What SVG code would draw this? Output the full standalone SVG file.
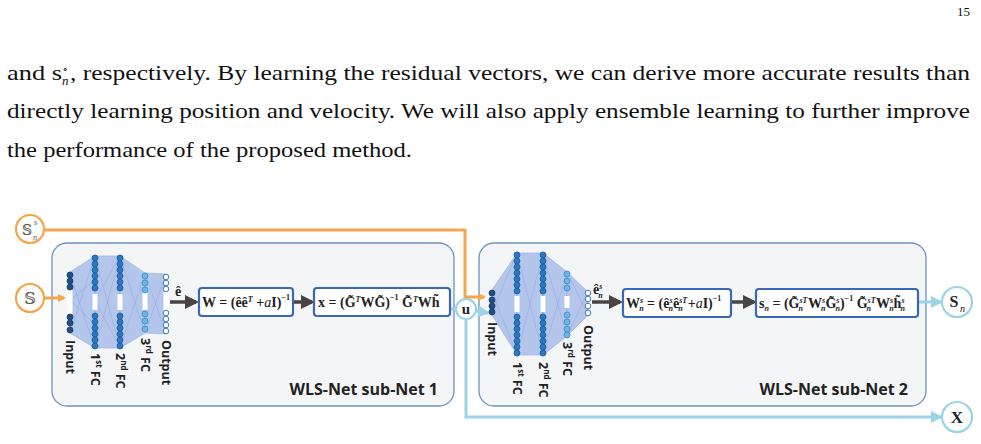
<svg xmlns="http://www.w3.org/2000/svg" width="981" height="444" viewBox="0 0 981 444">
<style>
.pg{font-family:"Liberation Serif",serif;font-size:22px;fill:#111}
.box{fill:#f3f5f6;stroke:#6b93c0;stroke-width:1.3}
.fb{fill:#fff;stroke:#3a68b8;stroke-width:2.2}
.fm{font-family:"Liberation Serif",serif;font-size:14px;font-weight:bold;fill:#222}
.lbl{font-family:"Open Sans","DejaVu Sans",sans-serif;font-size:12.5px;font-weight:bold;fill:#222}
.sub{font-family:"Open Sans","DejaVu Sans",sans-serif;font-size:16px;font-weight:bold;fill:#222}
.mesh{fill:#b5c6ec;stroke:#93abe0;stroke-width:.6}
.ml{stroke:#8ea7dc;stroke-width:.5}
.c1{fill:#1f4f85;stroke:#163a66;stroke-width:.8}
.c2{fill:#2a78c2;stroke:#1c5a9a;stroke-width:.8}
.c3{fill:#6cb6e6;stroke:#3a8cc6;stroke-width:.8}
.c4{fill:#fff;stroke:#2a6fb0;stroke-width:.9}
.bar{fill:#fff}
.io{fill:#fff;stroke-width:2.2}
.or{stroke:#f6a54c;stroke-width:3;fill:none}
.lb{stroke:#9cd4e6;stroke-width:3;fill:none}
.dk{stroke:#4a4343;stroke-width:3.5;fill:none}
</style>
<defs>
<marker id="aO" markerWidth="8" markerHeight="8" refX="6" refY="4" orient="auto" markerUnits="userSpaceOnUse" viewBox="0 0 8 8"><path d="M0,0 L8,4 L0,8 Z" fill="#f6a54c"/></marker>
<marker id="aB" markerWidth="12" markerHeight="12" refX="10" refY="6" orient="auto" markerUnits="userSpaceOnUse" viewBox="0 0 12 12"><path d="M0,0 L12,6 L0,12 Z" fill="#9cd4e6"/></marker>
<marker id="aD" markerWidth="14" markerHeight="14" refX="11" refY="7" orient="auto" markerUnits="userSpaceOnUse" viewBox="0 0 14 14"><path d="M0,0 L14,7 L0,14 Z" fill="#4a4343"/></marker>
</defs>
<rect width="981" height="444" fill="#fff"/>
<text class="pg" x="957" y="16" style="font-size:13px">15</text>
<text class="pg" x="7" y="80" textLength="55" lengthAdjust="spacingAndGlyphs">and s</text>
<text class="pg" x="62" y="72" style="font-size:10px">∘</text>
<text class="pg" x="62" y="85" style="font-size:13px;font-style:italic">n</text>
<text class="pg" x="70" y="80" textLength="900" lengthAdjust="spacingAndGlyphs">, respectively. By learning the residual vectors, we can derive more accurate results than</text>
<text class="pg" x="7" y="118" textLength="963" lengthAdjust="spacingAndGlyphs">directly learning position and velocity. We will also apply ensemble learning to further improve</text>
<text class="pg" x="7" y="157" textLength="405" lengthAdjust="spacingAndGlyphs">the performance of the proposed method.</text>

<g id="subnet1">
<rect class="box" x="52" y="243" width="402" height="163" rx="15"/>
<text class="sub" x="438" y="395" text-anchor="end">WLS-Net sub-Net 1</text>
</g>
<g id="subnet2">
<rect class="box" x="479" y="243" width="447" height="163" rx="15"/>
<text class="sub" x="908" y="395" text-anchor="end">WLS-Net sub-Net 2</text>
</g>

<g id="connectors">
<path class="or" d="M45,230 H465 V297 H484" marker-end="url(#aO)"/>
<path class="or" d="M45,298 H64" marker-end="url(#aO)"/>
<path class="dk" d="M170,302 H196" marker-end="url(#aD)"/>
<path class="dk" d="M293,302 H312" marker-end="url(#aD)"/>
<path class="lb" d="M450,309 H456"/>
<path class="lb" d="M476,311 L488,313" marker-end="url(#aB)"/>
<path class="lb" d="M466,319 V417 H941" marker-end="url(#aB)"/>
<path class="dk" d="M592,302 H620" marker-end="url(#aD)"/>
<path class="dk" d="M731,302 H754" marker-end="url(#aD)"/>
<path class="lb" d="M918,302 H941" marker-end="url(#aB)"/>
</g>

<g id="net1">
<polygon class="mesh" points="70,272 95,256 95,348 70,333"/>
<polygon class="mesh" points="95,256 120,256 120,348 95,348"/>
<polygon class="mesh" points="120,256 145,273 145,333 120,348"/>
<polygon class="mesh" points="145,273 166,274 166,334 145,333"/>
<path class="ml" d="M70,275 L95,348 M70,333 L95,256 M95,256 L120,348 M95,348 L120,256 M95,300 L120,256 M95,300 L120,348 M120,256 L145,333 M120,348 L145,273 M145,273 L166,334 M145,333 L166,274 M70,300 L95,280 M70,300 L95,325"/>
<rect class="bar" x="67.5" y="290" width="5" height="24"/>
<rect class="bar" x="92.5" y="294" width="5" height="16"/>
<rect class="bar" x="117.5" y="294" width="5" height="16"/>
<rect class="bar" x="142.5" y="292" width="5" height="18"/>
<rect class="bar" x="163.5" y="292" width="5" height="20"/>
<g class="c1"><circle cx="70" cy="275" r="3"/><circle cx="70" cy="281" r="3"/><circle cx="70" cy="287" r="3"/><circle cx="70" cy="317" r="3"/><circle cx="70" cy="323" r="3"/><circle cx="70" cy="330" r="3"/></g>
<g class="c2"><circle cx="95" cy="258" r="3"/><circle cx="95" cy="264" r="3"/><circle cx="95" cy="270" r="3"/><circle cx="95" cy="276" r="3"/><circle cx="95" cy="282" r="3"/><circle cx="95" cy="288" r="3"/><circle cx="95" cy="316" r="3"/><circle cx="95" cy="322" r="3"/><circle cx="95" cy="328" r="3"/><circle cx="95" cy="334" r="3"/><circle cx="95" cy="340" r="3"/><circle cx="95" cy="346" r="3"/>
<circle cx="120" cy="258" r="3"/><circle cx="120" cy="264" r="3"/><circle cx="120" cy="270" r="3"/><circle cx="120" cy="276" r="3"/><circle cx="120" cy="282" r="3"/><circle cx="120" cy="288" r="3"/><circle cx="120" cy="316" r="3"/><circle cx="120" cy="322" r="3"/><circle cx="120" cy="328" r="3"/><circle cx="120" cy="334" r="3"/><circle cx="120" cy="340" r="3"/><circle cx="120" cy="346" r="3"/></g>
<g class="c3"><circle cx="145" cy="276" r="3"/><circle cx="145" cy="283" r="3"/><circle cx="145" cy="290" r="3"/><circle cx="145" cy="314" r="3"/><circle cx="145" cy="321" r="3"/><circle cx="145" cy="329" r="3"/></g>
<g class="c4"><circle cx="166" cy="277" r="2.8"/><circle cx="166" cy="283" r="2.8"/><circle cx="166" cy="289" r="2.8"/><circle cx="166" cy="313" r="2.8"/><circle cx="166" cy="319" r="2.8"/><circle cx="166" cy="325" r="2.8"/><circle cx="166" cy="331" r="2.8"/></g>
<text class="lbl" transform="translate(66,340) rotate(90)">Input</text>
<text class="lbl" transform="translate(91,353) rotate(90)">1<tspan font-size="8" dy="-5">st</tspan><tspan dy="5"> FC</tspan></text>
<text class="lbl" transform="translate(116,353) rotate(90)">2<tspan font-size="8" dy="-5">nd</tspan><tspan dy="5"> FC</tspan></text>
<text class="lbl" transform="translate(141,338) rotate(90)">3<tspan font-size="8" dy="-5">rd</tspan><tspan dy="5"> FC</tspan></text>
<text class="lbl" transform="translate(162,340) rotate(90)">Output</text>
<text class="fm" x="175" y="296">ê</text>
</g>

<g id="formula1">
<rect class="fb" x="199" y="288" width="94" height="28" rx="3"/>
<text class="fm" x="202" y="307">W = (êê<tspan font-size="8" font-style="italic" dy="-5">T</tspan><tspan dy="5"> +</tspan><tspan font-style="italic" font-weight="normal">a</tspan>I)<tspan font-size="8" dy="-7">−1</tspan></text>
</g>
<g id="formula2">
<rect class="fb" x="314" y="288" width="136" height="28" rx="3"/>
<text class="fm" x="318" y="307">x = (G̃<tspan font-size="8" font-style="italic" dy="-5">T</tspan><tspan dy="5">WG̃)</tspan><tspan font-size="8" dy="-7">−1</tspan><tspan dy="7"> G̃</tspan><tspan font-size="8" font-style="italic" dy="-5">T</tspan><tspan dy="5">Wh̃</tspan></text>
</g>

<g id="net2">
<polygon class="mesh" points="492,290 517,253 517,355 492,315"/>
<polygon class="mesh" points="517,253 543,253 543,355 517,355"/>
<polygon class="mesh" points="543,253 567,272 567,336 543,355"/>
<polygon class="mesh" points="567,272 588,292 588,315 567,336"/>
<path class="ml" d="M492,292 L517,355 M492,313 L517,253 M517,253 L543,355 M517,355 L543,253 M543,253 L567,336 M543,355 L567,272 M567,272 L588,315 M567,336 L588,292"/>
<rect class="bar" x="514.5" y="296" width="5" height="16"/>
<rect class="bar" x="540.5" y="296" width="5" height="16"/>
<rect class="bar" x="564.5" y="296" width="5" height="12"/>
<g class="c1"><circle cx="492" cy="293" r="3"/><circle cx="492" cy="300" r="3"/><circle cx="492" cy="306" r="3"/><circle cx="492" cy="312" r="3"/></g>
<g class="c2"><circle cx="517" cy="255" r="3"/><circle cx="517" cy="261" r="3"/><circle cx="517" cy="267" r="3"/><circle cx="517" cy="273" r="3"/><circle cx="517" cy="279" r="3"/><circle cx="517" cy="285" r="3"/><circle cx="517" cy="291" r="3"/><circle cx="517" cy="317" r="3"/><circle cx="517" cy="323" r="3"/><circle cx="517" cy="329" r="3"/><circle cx="517" cy="335" r="3"/><circle cx="517" cy="341" r="3"/><circle cx="517" cy="347" r="3"/><circle cx="517" cy="353" r="3"/>
<circle cx="543" cy="255" r="3"/><circle cx="543" cy="261" r="3"/><circle cx="543" cy="267" r="3"/><circle cx="543" cy="273" r="3"/><circle cx="543" cy="279" r="3"/><circle cx="543" cy="285" r="3"/><circle cx="543" cy="291" r="3"/><circle cx="543" cy="317" r="3"/><circle cx="543" cy="323" r="3"/><circle cx="543" cy="329" r="3"/><circle cx="543" cy="335" r="3"/><circle cx="543" cy="341" r="3"/><circle cx="543" cy="347" r="3"/><circle cx="543" cy="353" r="3"/></g>
<g class="c3"><circle cx="567" cy="274" r="3"/><circle cx="567" cy="281" r="3"/><circle cx="567" cy="288" r="3"/><circle cx="567" cy="315" r="3"/><circle cx="567" cy="322" r="3"/><circle cx="567" cy="329" r="3"/><circle cx="567" cy="335" r="3"/></g>
<g class="c4"><circle cx="588" cy="293" r="2.8"/><circle cx="588" cy="299" r="2.8"/><circle cx="588" cy="306" r="2.8"/><circle cx="588" cy="313" r="2.8"/></g>
<text class="lbl" transform="translate(488,322) rotate(90)">Input</text>
<text class="lbl" transform="translate(513,362) rotate(90)">1<tspan font-size="8" dy="-5">st</tspan><tspan dy="5"> FC</tspan></text>
<text class="lbl" transform="translate(539,362) rotate(90)">2<tspan font-size="8" dy="-5">nd</tspan><tspan dy="5"> FC</tspan></text>
<text class="lbl" transform="translate(563,342) rotate(90)">3<tspan font-size="8" dy="-5">rd</tspan><tspan dy="5"> FC</tspan></text>
<text class="lbl" transform="translate(584,325) rotate(90)">Output</text>
<text class="fm" x="593" y="294">ê<tspan font-size="8" font-style="italic" dy="-5">s</tspan><tspan font-size="8" font-style="italic" dx="-4" dy="9">n</tspan></text>
</g>

<g id="formula3">
<rect class="fb" x="623" y="289" width="108" height="28" rx="3"/>
<text class="fm" x="626" y="308">W<tspan font-size="8" font-style="italic" dy="-5">s</tspan><tspan font-size="8" font-style="italic" dx="-4" dy="8">n</tspan><tspan dy="-3"> = (ê</tspan><tspan font-size="8" font-style="italic" dy="-5">s</tspan><tspan font-size="8" font-style="italic" dx="-4" dy="8">n</tspan><tspan dy="-3">ê</tspan><tspan font-size="8" font-style="italic" dy="-5">sT</tspan><tspan font-size="8" font-style="italic" dx="-9" dy="8">n</tspan><tspan dx="5" dy="-3">+</tspan><tspan font-style="italic" font-weight="normal">a</tspan>I)<tspan font-size="8" dy="-7">−1</tspan></text>
</g>
<g id="formula4">
<rect class="fb" x="756" y="289" width="162" height="28" rx="3"/>
<text class="fm" x="759" y="308">s<tspan font-size="8" font-style="italic" dy="3">n</tspan><tspan dy="-3"> = (G̃</tspan><tspan font-size="8" font-style="italic" dy="-5">sT</tspan><tspan font-size="8" font-style="italic" dx="-9" dy="8">n</tspan><tspan dx="5" dy="-3">W</tspan><tspan font-size="8" font-style="italic" dy="-5">s</tspan><tspan font-size="8" font-style="italic" dx="-4" dy="8">n</tspan><tspan dy="-3">G̃</tspan><tspan font-size="8" font-style="italic" dy="-5">s</tspan><tspan font-size="8" font-style="italic" dx="-4" dy="8">n</tspan><tspan dy="-3">)</tspan><tspan font-size="8" dy="-7">−1</tspan><tspan dy="7"> G̃</tspan><tspan font-size="8" font-style="italic" dy="-5">sT</tspan><tspan font-size="8" font-style="italic" dx="-9" dy="8">n</tspan><tspan dx="5" dy="-3">W</tspan><tspan font-size="8" font-style="italic" dy="-5">s</tspan><tspan font-size="8" font-style="italic" dx="-4" dy="8">n</tspan><tspan dy="-3">h̃</tspan><tspan font-size="8" font-style="italic" dy="-5">s</tspan><tspan font-size="8" font-style="italic" dx="-4" dy="8">n</tspan></text>
</g>

<g id="in-Ssn"><circle class="io" cx="30" cy="229" r="14" stroke="#f6a54c"/><text x="22" y="235" font-family="DejaVu Serif,serif" font-size="14" fill="#555">𝕊</text><text x="34" y="225" font-family="Liberation Serif,serif" font-style="italic" font-size="8" fill="#555">s</text><text x="33" y="240" font-family="Liberation Serif,serif" font-style="italic" font-size="8" fill="#555">n</text></g>
<g id="in-S"><circle class="io" cx="30" cy="298" r="14" stroke="#f6a54c"/><text x="30" y="304" text-anchor="middle" font-family="DejaVu Serif,serif" font-size="16" fill="#555">𝕊</text></g>
<g id="u"><circle class="io" cx="466" cy="309" r="10" stroke="#9cd4e6"/><text x="466" y="314" text-anchor="middle" font-family="Liberation Serif,serif" font-weight="bold" font-size="15" fill="#222">u</text></g>
<g id="out-Sn"><circle class="io" cx="957" cy="302" r="15" stroke="#9cd4e6"/><text x="954" y="307" text-anchor="middle" font-family="Liberation Serif,serif" font-weight="bold" font-size="16" fill="#222">S</text><text x="960" y="312" font-family="Liberation Serif,serif" font-style="italic" font-size="10" fill="#222">n</text></g>
<g id="out-X"><circle class="io" cx="957" cy="417" r="15" stroke="#9cd4e6"/><text x="957" y="423" text-anchor="middle" font-family="Liberation Serif,serif" font-weight="bold" font-size="17" fill="#222">X</text></g>
</svg>
